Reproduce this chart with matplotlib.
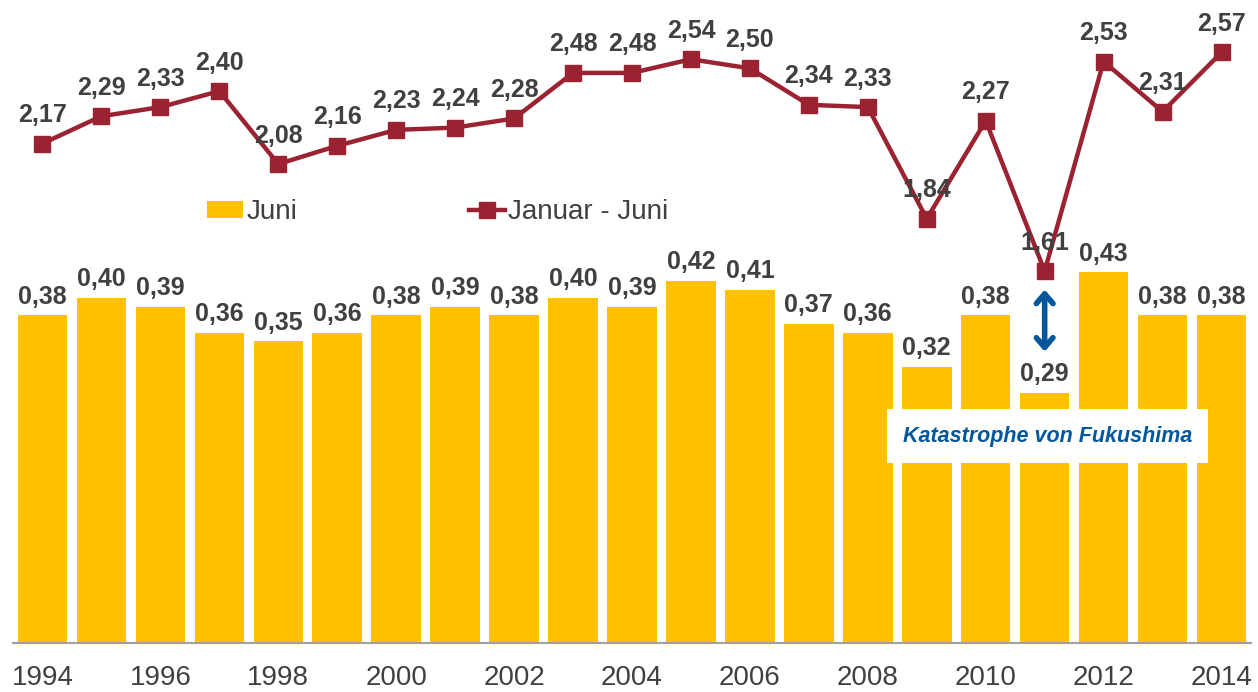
import matplotlib.pyplot as plt
from matplotlib.patches import Patch
from matplotlib.lines import Line2D

plt.rcParams['font.family'] = ['Liberation Sans', 'DejaVu Sans']

years = list(range(1994, 2015))
juni = [0.38, 0.40, 0.39, 0.36, 0.35, 0.36, 0.38, 0.39, 0.38, 0.40, 0.39,
        0.42, 0.41, 0.37, 0.36, 0.32, 0.38, 0.29, 0.43, 0.38, 0.38]
jan_juni = [2.17, 2.29, 2.33, 2.40, 2.08, 2.16, 2.23, 2.24, 2.28, 2.48, 2.48,
            2.54, 2.50, 2.34, 2.33, 1.84, 2.27, 1.61, 2.53, 2.31, 2.57]

bar_col = '#FFC000'
line_col = '#9B2230'
txt_col = '#404040'
blue = '#00579C'

def fmt(v):
    return f"{v:.2f}".replace('.', ',')

fig = plt.figure(figsize=(12.58, 6.92), dpi=100)
ax = fig.add_axes([13 / 1258, 49 / 692, 1238 / 1258, 643 / 692])
x = list(range(len(years)))

ax.bar(x, juni, width=0.84, color=bar_col, zorder=2)
for i, v in zip(x, juni):
    ax.annotate(fmt(v), (i, v), xytext=(0, 13.5), textcoords='offset points',
                ha='center', va='center', fontsize=18, fontweight='bold', color=txt_col)

ax.set_xlim(-0.5, len(years) - 0.5)
ax.set_ylim(0, 0.746)
ax.set_yticks([])
ax.set_xticks(x[::2])
ax.set_xticklabels([str(y) for y in years[::2]], fontsize=20, color=txt_col)
ax.tick_params(axis='x', length=0, pad=16)
for s in ['top', 'right', 'left']:
    ax.spines[s].set_visible(False)
ax.spines['bottom'].set_color('#A0A0A0')
ax.spines['bottom'].set_linewidth(1.5)

# Fukushima annotation
k = years.index(2011)
ax.annotate('', xy=(k, 0.41), xytext=(k, 0.338),
            arrowprops=dict(arrowstyle='<->,head_length=0.7,head_width=0.6',
                            color=blue, lw=4, shrinkA=0, shrinkB=0), zorder=5)
ax.text(k + 0.05, 0.24, 'Katastrophe von Fukushima', ha='center', va='center',
        fontsize=15.5, fontweight='bold', fontstyle='italic', color=blue, zorder=6,
        bbox=dict(boxstyle='square,pad=0.75', facecolor='white', edgecolor='none'))

ax2 = ax.twinx()
ax2.plot(x, jan_juni, color=line_col, lw=3.2, marker='s', markersize=12, zorder=3)
for i, v in zip(x, jan_juni):
    ax2.annotate(fmt(v), (i, v), xytext=(0, 20.5), textcoords='offset points',
                 ha='center', va='center', fontsize=18, fontweight='bold', color=txt_col)
ax2.set_ylim(-0.022, 2.80)
ax2.set_yticks([])
for s in ['top', 'right', 'left', 'bottom']:
    ax2.spines[s].set_visible(False)

handles = [Patch(facecolor=bar_col, edgecolor='none'),
           Line2D([], [], color=line_col, lw=3.2, marker='s', markersize=12)]
leg = ax2.legend(handles, ['Juni', 'Januar - Juni'], loc='center left',
                 bbox_to_anchor=(0.157, 0.67), ncol=2, frameon=False,
                 fontsize=20, handlelength=1.3, handleheight=0.6, handletextpad=0.1,
                 columnspacing=6.2, borderpad=0, borderaxespad=0)
for t in leg.get_texts():
    t.set_color(txt_col)

fig.savefig('out.png', dpi=100)
